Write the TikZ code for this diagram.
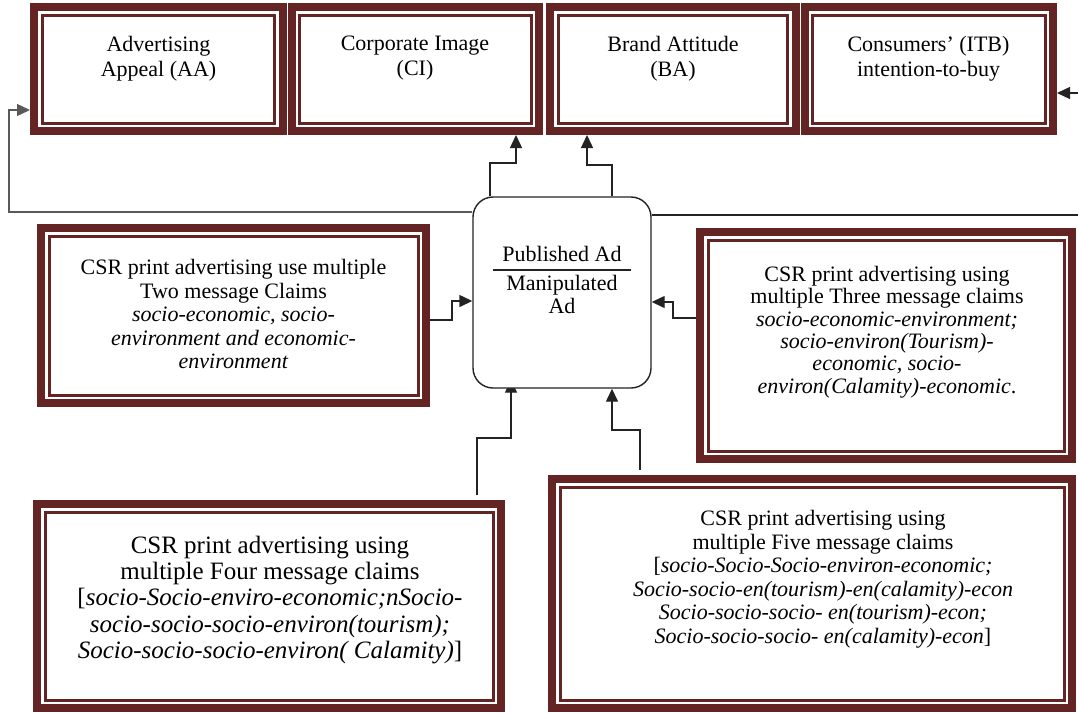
\documentclass[tikz,border=0pt]{standalone}
\usepackage{fontspec}
\setmainfont{Liberation Serif}
\usetikzlibrary{arrows.meta,backgrounds}
\definecolor{framered}{RGB}{99,36,35}
\definecolor{wire}{RGB}{35,35,35}
\begin{document}
\begin{tikzpicture}[x=1pt,y=-1pt,
  % thick-thin maroon frame
  frame/.style={draw=framered, line width=8pt, fill=white, outer sep=4pt, inner sep=0pt,
    path picture={\draw[framered, line width=3pt]
      ([shift={(8pt,8pt)}]path picture bounding box.south west) rectangle
      ([shift={(-8pt,-8pt)}]path picture bounding box.north east);}},
  toptext/.style={align=center, inner sep=0pt, font=\fontsize{22}{25}\selectfont},
  boxtext/.style={align=center, inner sep=0pt, font=\fontsize{22}{23.5}\selectfont},
  tighttext/.style={align=center, inner sep=0pt, font=\fontsize{22}{22.4}\selectfont},
  bigtext/.style={align=center, inner sep=0pt, font=\fontsize{25}{26.3}\selectfont},
  adbox/.style={draw=wire, line width=1.4pt, fill=white, rounded corners=20pt,
    minimum width=178pt, minimum height=191pt, inner sep=0pt},
  arr/.style={draw=wire, line width=1.4pt, -{Triangle[length=13pt,width=12pt]}},
  line/.style={draw=wire, line width=1.4pt}
]
\useasboundingbox (0,0) rectangle (1078,712);
\clip (0,0) rectangle (1078,712);

% outcome boxes along the top
\node[frame, minimum width=248.5pt, minimum height=124pt] (aa)  at (158.25,69) {};
\node[frame, minimum width=247.5pt, minimum height=124pt] (ci)  at (415.25,69) {};
\node[frame, minimum width=245.5pt, minimum height=124pt] (ba)  at (672.75,69) {};
\node[frame, minimum width=248.5pt, minimum height=124pt] (itb) at (928.75,69) {};
\node[toptext] (aa-t)  at (158.5,58.5) {Advertising\\Appeal (AA)};
\node[toptext] (ci-t)  at (415,58.5)   {Corporate Image\\(CI)};
\node[toptext] (ba-t)  at (673,58.5)   {Brand Attitude\\(BA)};
\node[toptext] (itb-t) at (928.5,58.5) {Consumers' (ITB)\\intention-to-buy};

% central advertisement
\node[adbox] (ad) at (562,292.5) {};
\node[boxtext] (pub) at (562,254) {Published Ad};
\node[boxtext] (man) at (562,294.5) {Manipulated\\Ad};
\draw[wire, line width=1.2pt] (493,270) -- (631,270);

% message-claim boxes
\node[frame, minimum width=385pt, minimum height=175pt] (two)   at (233.5,315.5) {};
\node[frame, minimum width=372pt, minimum height=227pt] (three) at (886,345.5) {};
\node[frame, minimum width=464pt, minimum height=204pt] (four)  at (269,606) {};
\node[frame, minimum width=520pt, minimum height=229pt] (five)  at (812,593.5) {};

\node[boxtext] (two-t) at (233.5,314) {CSR print advertising use multiple\\Two message Claims\\
  \textit{socio-economic, socio-}\\\textit{environment and economic-}\\\textit{environment}};
\node[tighttext] (three-t) at (887,332) {CSR print advertising using\\multiple Three message claims\\
  \textit{socio-economic-environment;}\\\textit{socio-environ(Tourism)-}\\
  \textit{economic, socio-}\\\textit{environ(Calamity)-economic}.};
\node[bigtext] (four-t) at (270,600) {CSR print advertising using\\multiple Four message claims\\
  {[}\textit{socio-Socio-enviro-economic;nSocio-}\\\textit{socio-socio-socio-environ(tourism);}\\
  \textit{Socio-socio-socio-environ( Calamity)}]};
\node[boxtext] (five-t) at (823,579) {CSR print advertising using\\multiple Five message claims\\
  {[}\textit{socio-Socio-Socio-environ-economic;}\\\textit{Socio-socio-en(tourism)-en(calamity)-econ}\\
  \textit{Socio-socio-socio- en(tourism)-econ;}\\\textit{Socio-socio-socio- en(calamity)-econ}]};

\coordinate (fb) at (9,212);
\coordinate (rt) at (1090,215);
\coordinate (fourout) at (477,495);
\coordinate (fiveout) at (640,470);

\begin{scope}[on background layer]
  % feedback loops to the outer outcomes
  \draw[arr, draw=black!65] (ad.west |- fb) -- (fb) |- ([yshift=-41pt]aa.west);
  \draw[arr] (ad.east |- rt) -- (rt) |- ([yshift=-24pt]itb.east);
  % published ad to image and attitude
  \draw[arr] (ad.north -| 490,0) -- (490,163) -- (516,163) -- (ci.south -| 516,0);
  \draw[arr] (ad.north -| 612,0) -- (612,165) -- (587,165) -- (ba.south -| 587,0);
  % message claims into the ad
  \draw[arr] (two.east |- 0,320) -- (452,320) -- (452,301) -- (ad.west |- 0,301);
  \draw[arr] (three.west |- 0,318) -- (673,318) -- (673,302) -- (ad.east |- 0,302);
  \draw[arr] (fourout) -- (477,438) -- (511,438) -- ([yshift=9pt]ad.south -| 511,0);
  \draw[arr] (fiveout) -- (640,430) -- (612,430) -- (ad.south -| 612,0);
\end{scope}
\end{tikzpicture}
\end{document}
